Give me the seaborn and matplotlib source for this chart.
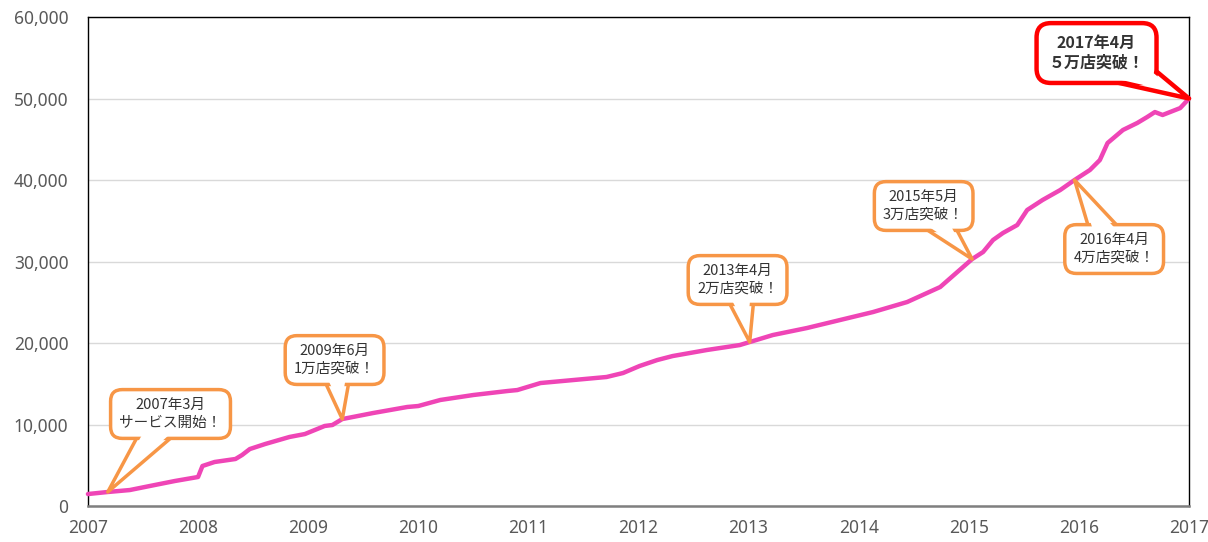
import matplotlib
matplotlib.use("Agg")
import matplotlib.pyplot as plt
import matplotlib.ticker as mticker
import seaborn as sns

sns.set_style("white")
plt.rcParams['font.family'] = ['Noto Sans CJK JP', 'DejaVu Sans']

# store count over time
years = [2007.00, 2007.18, 2007.38, 2007.56, 2007.79, 2008.00, 2008.04, 2008.15,
         2008.34, 2008.40, 2008.47, 2008.61, 2008.83, 2008.97, 2009.15, 2009.22,
         2009.31, 2009.59, 2009.90, 2010.00, 2010.20, 2010.50, 2010.81, 2010.90,
         2011.11, 2011.41, 2011.71, 2011.86, 2012.01, 2012.17, 2012.31, 2012.62,
         2012.92, 2013.01, 2013.22, 2013.53, 2013.83, 2014.13, 2014.44, 2014.74,
         2015.03, 2015.13, 2015.22, 2015.31, 2015.44, 2015.53, 2015.67, 2015.83,
         2015.96, 2016.10, 2016.19, 2016.26, 2016.40, 2016.53, 2016.62, 2016.69,
         2016.76, 2016.92, 2017.00]
stores = [1470, 1720, 1960, 2450, 3070, 3560, 4910, 5400,
          5770, 6260, 6990, 7610, 8470, 8830, 9820, 9940,
          10670, 11410, 12150, 12270, 13010, 13620, 14110, 14230,
          15090, 15460, 15830, 16320, 17180, 17910, 18400, 19140,
          19750, 20120, 20980, 21840, 22820, 23800, 25030, 26870,
          30300, 31170, 32640, 33500, 34480, 36320, 37550, 38770,
          40000, 41230, 42450, 44540, 46140, 47000, 47730, 48340,
          47980, 48830, 50000]

milestone_x = [2007.18, 2009.31, 2013.01, 2015.03, 2015.96, 2017.00]
milestone_y = [1720, 10670, 20120, 30300, 40000, 50000]
milestone_labels = ["2007年3月\nサービス開始！", "2009年6月\n1万店突破！", "2013年4月\n2万店突破！",
                    "2015年5月\n3万店突破！", "2016年4月\n4万店突破！", "2017年4月\n５万店突破！"]
box_x = [2007.75, 2009.24, 2012.90, 2014.59, 2016.32, 2016.16]
box_y = [11290, 17910, 27730, 36810, 31530, 55580]

year_ticks = list(range(2007, 2018))
store_ticks = list(range(0, 60001, 10000))

fig = plt.figure(figsize=(12.08, 5.42), dpi=100)
ax = fig.add_axes([0.0728, 0.0664, 0.9115, 0.9022])

ax.grid(axis='y', color='#d9d9d9', lw=1)
ax.set_axisbelow(True)
sns.lineplot(x=years, y=stores, color='#ef45b6', lw=3.2, ax=ax, zorder=4, clip_on=False)


def callout(x, y, tx, ty, label, color, bold=False):
    lw = 3.2 if bold else 2.5
    fs = 11.5 if bold else 10.5
    tail = 3.6 if bold else 2.7
    pad = 'round,pad=0.75,rounding_size=0.9' if bold else 'round,pad=0.6,rounding_size=0.8'
    ax.annotate(label, xy=(x, y), xytext=(tx, ty), ha='center', va='center',
                fontsize=fs, color=(0, 0, 0, 0), annotation_clip=False, zorder=5,
                fontweight='bold' if bold else 'normal', linespacing=1.3,
                bbox=dict(boxstyle=pad, fc='white', ec=color, lw=lw),
                arrowprops=dict(arrowstyle='wedge,tail_width=%.2f' % tail, mutation_scale=10,
                                fc='white', ec=color, lw=lw, patchA=None, shrinkA=0, shrinkB=0))
    # white inner wedge opens the border where the tail joins the box
    ax.annotate('', xy=(x, y), xytext=(tx, ty), annotation_clip=False, zorder=6,
                arrowprops=dict(arrowstyle='wedge,tail_width=%.2f' % (tail - 0.55), mutation_scale=10,
                                fc='white', ec='none', lw=0, patchA=None, shrinkA=0, shrinkB=9))
    ax.text(tx, ty, label, ha='center', va='center', fontsize=fs, color='#333333', zorder=7,
            fontweight='bold' if bold else 'normal', linespacing=1.3)


for i in range(len(milestone_x)):
    last = i == len(milestone_x) - 1
    callout(milestone_x[i], milestone_y[i], box_x[i], box_y[i], milestone_labels[i],
            '#ff0000' if last else '#f79646', bold=last)

ax.set_xlim(2007, 2017)
ax.set_ylim(0, 60000)
ax.set_xticks(year_ticks)
ax.set_yticks(store_ticks)
ax.yaxis.set_major_formatter(mticker.StrMethodFormatter('{x:,.0f}'))
ax.tick_params(axis='both', length=0, labelsize=12.5, labelcolor='#595959')
ax.tick_params(axis='y', pad=14)
ax.tick_params(axis='x', pad=9)
for lab in ax.get_xticklabels() + ax.get_yticklabels():
    lab.set_family(['Noto Sans', 'DejaVu Sans'])

for side in ['top', 'left', 'right']:
    ax.spines[side].set_color('black')
    ax.spines[side].set_linewidth(1)
ax.spines['bottom'].set_color('#7f7f7f')
ax.spines['bottom'].set_linewidth(1.8)

fig.savefig('out.png', dpi=100)
